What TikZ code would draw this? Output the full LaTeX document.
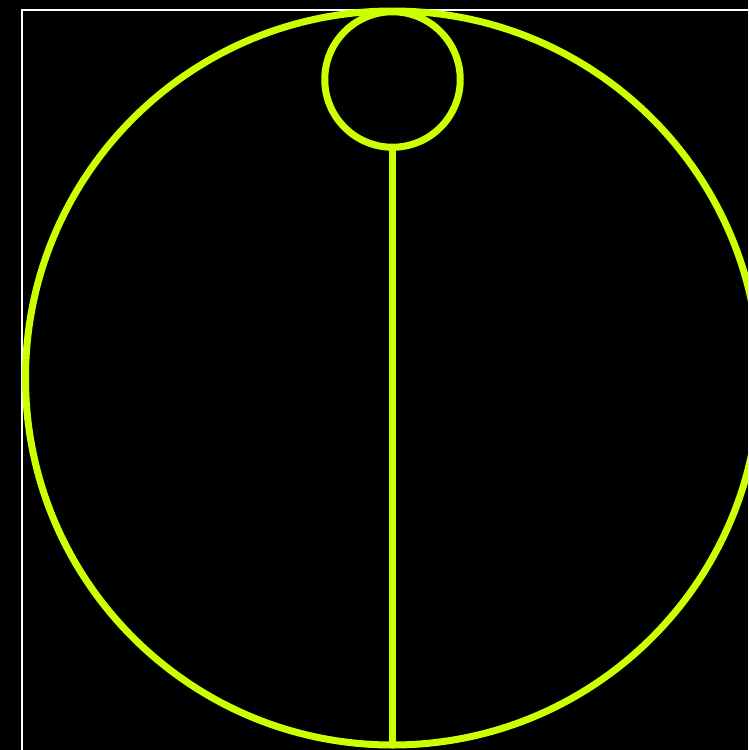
\documentclass[tikz,border=0pt]{standalone}
\usepackage{tikz}
\usetikzlibrary{positioning}
\definecolor{ringlime}{HTML}{CCFF00}

\begin{document}
\begin{tikzpicture}[x=1pt,y=-1pt,
    ring/.style={circle,draw=ringlime,line width=7pt,inner sep=0pt,outer sep=0pt}]
    % Hintergrund und Rahmen
    \fill[black] (0,0) rectangle (748,750);
    \useasboundingbox (0,0) rectangle (748,750);
    \clip (0,0) rectangle (748,750);
    \draw[white,line width=2pt] (22,10) rectangle (780,780);
    % großer Kreis und kleiner Kreis oben, innen berührend
    \node[ring,minimum size=734pt] (outer) at (392.5,378) {};
    \node[ring,minimum size=135.5pt] (inner) at (392.5,79.5) {};
    % senkrechte Linie vom kleinen Kreis nach unten
    \draw[ringlime,line width=7pt] (inner.south) -- (outer.south);
\end{tikzpicture}
\end{document}
